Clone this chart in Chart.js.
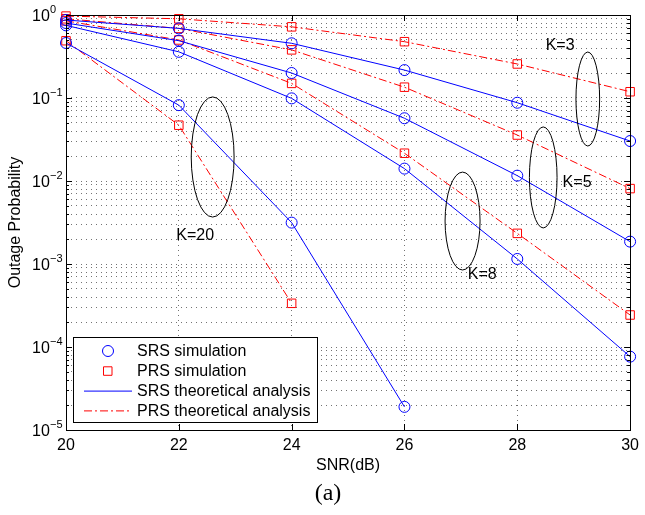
<!DOCTYPE html>
<html>
<head>
<meta charset="utf-8">
<script src="https://cdn.jsdelivr.net/npm/chart.js@4.4.0/dist/chart.umd.min.js"></script>
<style>
  html, body { margin: 0; padding: 0; background: #fff; }
  #wrap { width: 645px; height: 515px; position: relative; }
</style>
</head>
<body>
<div id="wrap"><canvas id="outage"></canvas></div>
<script>
const snr = [20, 22, 24, 26, 28, 30];

// SRS (blue, solid) and PRS (red, dash-dot) outage probability
const srsK3 = [0.87, 0.69, 0.456, 0.217, 0.0877, 0.0303];
const srsK5 = [0.80, 0.49, 0.20, 0.057, 0.0116, 0.00186];
const srsK8 = [0.75, 0.36, 0.099, 0.0141, 0.00115, 0.0000765];
const srsK20 = [0.46, 0.082, 0.00315, 0.000019];
const prsK3 = [0.97, 0.90, 0.72, 0.477, 0.257, 0.119];
const prsK5 = [0.90, 0.69, 0.38, 0.135, 0.0358, 0.0081];
const prsK8 = [0.85, 0.50, 0.15, 0.0216, 0.00234, 0.000243];
const prsK20 = [0.49, 0.047, 0.000336];

const xTicks = [20, 22, 24, 26, 28, 30];
const yDecades = [1e-5, 1e-4, 1e-3, 1e-2, 1e-1, 1];
const yTickExp = ["\u22125", "\u22124", "\u22123", "\u22122", "\u22121", "0"];

const legendLabels = ["SRS simulation", "PRS simulation", "SRS theoretical analysis", "PRS theoretical analysis"];

// ellipses round each K group: x centre, half width (dB), top and bottom (probability)
const groupNames = ["K=20", "K=8", "K=5", "K=3"];
const ellipseX = [22.6, 27.03, 28.46, 29.25];
const ellipseHalfW = [0.38, 0.31, 0.245, 0.21];
const ellipseTop = [0.103, 0.0128, 0.0448, 0.358];
const ellipseBottom = [0.00368, 0.000847, 0.00272, 0.0264];
const labelX = [22.29, 27.38, 29.06, 28.76];
const labelY = [0.00217, 0.000737, 0.0097, 0.423];

// minor log ticks 1..9 per decade
const yTickValues = [];
for (let e = -5; e <= 0; e++) {
  for (let m = 1; m <= 9; m++) {
    const v = m * Math.pow(10, e);
    if (v <= 1.0000001) yTickValues.push(v);
  }
}

const BLUE = "#0000ff";
const RED = "#ff0000";
const DASHDOT = [8, 3, 2, 3];
const FONT = "'Liberation Sans', Arial, 'DejaVu Sans', sans-serif";

function pts(ys) {
  return ys.map((y, i) => ({ x: snr[i], y: y }));
}

function srs(ys) {
  return {
    data: pts(ys),
    borderColor: BLUE,
    borderWidth: 1,
    pointStyle: "circle",
    pointRadius: 5.5,
    pointBorderColor: BLUE,
    pointBackgroundColor: "rgba(0,0,0,0)",
    pointBorderWidth: 1,
    tension: 0,
    clip: false,
  };
}

function prs(ys) {
  return {
    data: pts(ys),
    borderColor: RED,
    borderWidth: 1,
    borderDash: DASHDOT,
    pointStyle: "rect",
    pointRadius: 6,
    pointBorderColor: RED,
    pointBackgroundColor: "rgba(0,0,0,0)",
    pointBorderWidth: 1,
    tension: 0,
    clip: false,
  };
}

function isDecade(v) {
  const l = Math.log10(v);
  return Math.abs(l - Math.round(l)) < 1e-6;
}

// frame, inward ticks, y labels with exponents, group ellipses, legend box and caption
const decorations = {
  id: "decorations",
  afterDraw(chart) {
    const ctx = chart.ctx;
    const a = chart.chartArea;
    const xs = chart.scales.x;
    const ys = chart.scales.y;
    ctx.save();
    ctx.strokeStyle = "#000";
    ctx.lineWidth = 1;
    ctx.setLineDash([]);

    // ticks
    ctx.beginPath();
    xTicks.forEach((v) => {
      const px = Math.round(xs.getPixelForValue(v)) + 0.5;
      ctx.moveTo(px, a.bottom); ctx.lineTo(px, a.bottom - 6);
      ctx.moveTo(px, a.top); ctx.lineTo(px, a.top + 6);
    });
    yTickValues.forEach((v) => {
      const py = Math.round(ys.getPixelForValue(v)) + 0.5;
      const len = isDecade(v) ? 6 : 3;
      ctx.moveTo(a.left, py); ctx.lineTo(a.left + len, py);
      ctx.moveTo(a.right, py); ctx.lineTo(a.right - len, py);
    });
    ctx.stroke();

    // frame
    ctx.strokeRect(Math.round(a.left) + 0.5, Math.round(a.top) + 0.5,
      Math.round(a.right - a.left), Math.round(a.bottom - a.top));

    // y tick labels: 10 with raised exponent
    ctx.fillStyle = "#000";
    ctx.textAlign = "left";
    ctx.textBaseline = "middle";
    yDecades.forEach((v, i) => {
      const py = ys.getPixelForValue(v);
      ctx.font = "16px " + FONT;
      ctx.fillText("10", a.left - 34, py + 2);
      ctx.font = "11px " + FONT;
      ctx.fillText(yTickExp[i], a.left - 16, py - 5);
    });

    // ellipses + labels
    ctx.font = "16px " + FONT;
    ctx.textAlign = "center";
    groupNames.forEach((name, i) => {
      const cx = xs.getPixelForValue(ellipseX[i]);
      const rx = Math.abs(xs.getPixelForValue(ellipseX[i] + ellipseHalfW[i]) - cx);
      const t = ys.getPixelForValue(ellipseTop[i]);
      const b = ys.getPixelForValue(ellipseBottom[i]);
      ctx.beginPath();
      ctx.ellipse(cx, (t + b) / 2, rx, (b - t) / 2, 0, 0, Math.PI * 2);
      ctx.stroke();
      ctx.fillText(name, xs.getPixelForValue(labelX[i]), ys.getPixelForValue(labelY[i]));
    });

    // legend
    const lx = a.left + 7, ly = a.top + 322, lw = 244, lh = 85;
    ctx.fillStyle = "#fff";
    ctx.fillRect(lx, ly, lw, lh);
    ctx.strokeRect(lx + 0.5, ly + 0.5, lw, lh);
    ctx.textAlign = "left";
    ctx.font = "16px " + FONT;
    legendLabels.forEach((txt, i) => {
      const cy = ly + 14 + i * 19.8;
      ctx.beginPath();
      if (i === 0) {
        ctx.strokeStyle = BLUE;
        ctx.arc(lx + 35, cy, 5.5, 0, Math.PI * 2);
      } else if (i === 1) {
        ctx.strokeStyle = RED;
        ctx.rect(lx + 30.5, cy - 4, 8.5, 8.5);
      } else {
        ctx.strokeStyle = i === 2 ? BLUE : RED;
        ctx.setLineDash(i === 2 ? [] : DASHDOT);
        ctx.moveTo(lx + 11, cy + 0.5); ctx.lineTo(lx + 59, cy + 0.5);
      }
      ctx.stroke();
      ctx.setLineDash([]);
      ctx.fillStyle = "#000";
      ctx.fillText(txt, lx + 64, cy + 1);
    });

    // caption
    ctx.font = "24px 'Liberation Serif', 'Times New Roman', serif";
    ctx.textAlign = "center";
    ctx.fillText("(a)", 328, 494);
    ctx.restore();
  },
};

new Chart(document.getElementById("outage"), {
  type: "line",
  data: {
    datasets: [
      srs(srsK3), srs(srsK5), srs(srsK8), srs(srsK20),
      prs(prsK3), prs(prsK5), prs(prsK8), prs(prsK20),
    ],
  },
  options: {
    responsive: true,
    maintainAspectRatio: false,
    animation: false,
    layout: { padding: { left: 0, right: 7, top: 15, bottom: 0 } },
    plugins: {
      legend: { display: false },
      tooltip: { enabled: false },
    },
    scales: {
      x: {
        type: "linear",
        min: 20,
        max: 30,
        afterBuildTicks: (scale) => { scale.ticks = xTicks.map((v) => ({ value: v })); },
        afterFit: (scale) => { scale.height = 85; },
        ticks: { color: "#000", font: { family: FONT, size: 16 }, padding: 6 },
        grid: { color: "rgba(0,0,0,0.55)", lineWidth: 1, drawTicks: false },
        border: { display: false, dash: [1, 4] },
        title: {
          display: true,
          text: "SNR(dB)",
          color: "#000",
          font: { family: FONT, size: 16 },
          padding: { top: 0, bottom: 40 },
        },
      },
      y: {
        type: "logarithmic",
        min: 1e-5,
        max: 1,
        afterBuildTicks: (scale) => { scale.ticks = yTickValues.map((v) => ({ value: v })); },
        afterFit: (scale) => { scale.width = 66; },
        ticks: { display: false, autoSkip: false },
        grid: { color: "rgba(0,0,0,0.55)", lineWidth: 1, drawTicks: false },
        border: { display: false, dash: [1, 4] },
        title: {
          display: true,
          text: "Outage Probability",
          color: "#000",
          font: { family: FONT, size: 16 },
          padding: { top: 6, bottom: 0 },
        },
      },
    },
  },
  plugins: [decorations],
});
</script>
</body>
</html>
